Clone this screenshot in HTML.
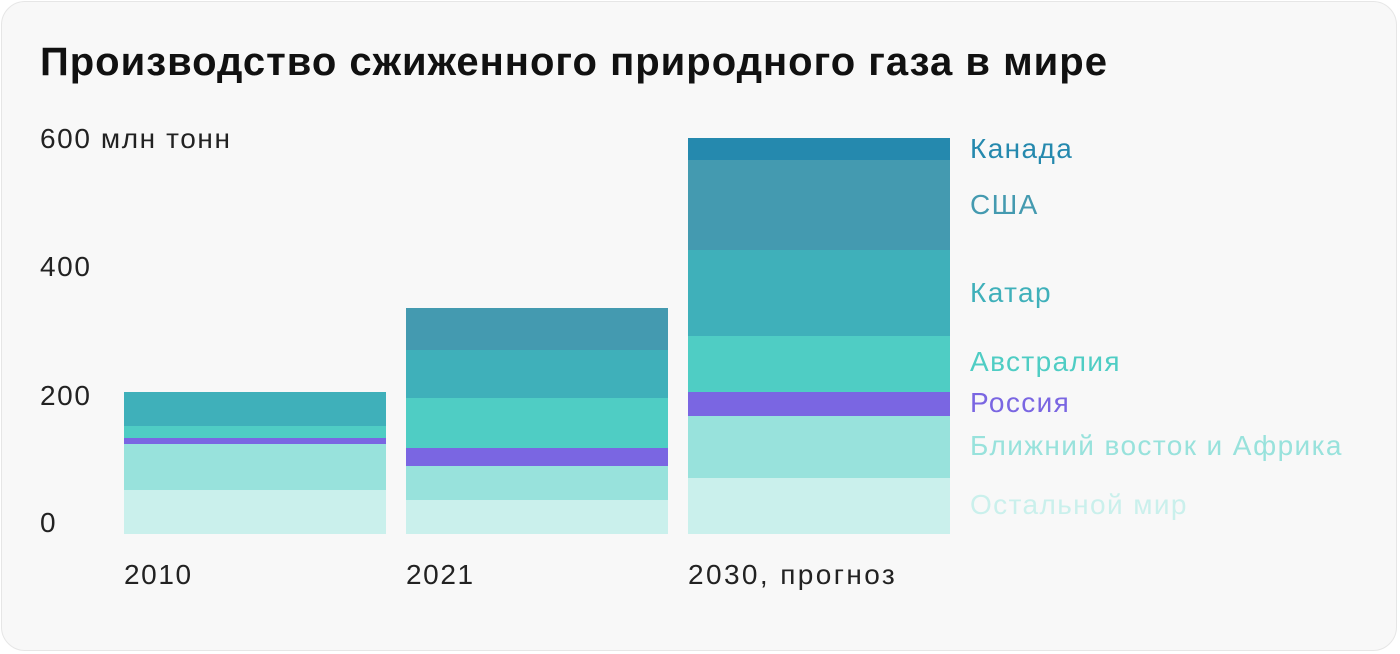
<!DOCTYPE html>
<html><head><meta charset="utf-8"><style>
body{margin:0;width:1400px;height:654px;background:#fff;font-family:"Liberation Sans",sans-serif;overflow:hidden}
.card{position:absolute;left:1px;top:1px;width:1396px;height:650px;background:#f8f8f8;border:1px solid #e6e6e6;border-radius:24px;box-sizing:border-box}
.t{position:absolute;white-space:nowrap}
.ax{font-size:28px;letter-spacing:1.6px;color:#222}
.lg{font-size:28px;letter-spacing:1.4px}
.b{position:absolute}
</style></head><body>
<div class="card"></div>
<div class="t" style="left:40px;top:40px;font-size:40px;letter-spacing:1px;font-weight:bold;color:#111">Производство сжиженного природного газа в мире</div>
<div class="t ax" style="left:40px;top:123px">600 млн тонн</div>
<div class="t ax" style="left:40px;top:251px">400</div>
<div class="t ax" style="left:40px;top:380px">200</div>
<div class="t ax" style="left:40px;top:507px">0</div>
<div class="t ax" style="left:124px;top:559px">2010</div>
<div class="t ax" style="left:406px;top:559px">2021</div>
<div class="t ax" style="left:688px;top:559px;letter-spacing:2.4px">2030, прогноз</div>

<div class="b" style="left:124px;width:262px;top:392px;height:34px;background:#3FB0BA"></div>
<div class="b" style="left:124px;width:262px;top:426px;height:12px;background:#4FCDC4"></div>
<div class="b" style="left:124px;width:262px;top:438px;height:6px;background:#7A66E2"></div>
<div class="b" style="left:124px;width:262px;top:444px;height:46px;background:#98E2DC"></div>
<div class="b" style="left:124px;width:262px;top:490px;height:44px;background:#CAF0EC"></div>

<div class="b" style="left:406px;width:262px;top:308px;height:42px;background:#449AB0"></div>
<div class="b" style="left:406px;width:262px;top:350px;height:48px;background:#3FB0BA"></div>
<div class="b" style="left:406px;width:262px;top:398px;height:50px;background:#4FCDC4"></div>
<div class="b" style="left:406px;width:262px;top:448px;height:18px;background:#7A66E2"></div>
<div class="b" style="left:406px;width:262px;top:466px;height:34px;background:#98E2DC"></div>
<div class="b" style="left:406px;width:262px;top:500px;height:34px;background:#CAF0EC"></div>

<div class="b" style="left:688px;width:262px;top:138px;height:22px;background:#2589AE"></div>
<div class="b" style="left:688px;width:262px;top:160px;height:90px;background:#449AB0"></div>
<div class="b" style="left:688px;width:262px;top:250px;height:86px;background:#3FB0BA"></div>
<div class="b" style="left:688px;width:262px;top:336px;height:56px;background:#4FCDC4"></div>
<div class="b" style="left:688px;width:262px;top:392px;height:24px;background:#7A66E2"></div>
<div class="b" style="left:688px;width:262px;top:416px;height:62px;background:#98E2DC"></div>
<div class="b" style="left:688px;width:262px;top:478px;height:56px;background:#CAF0EC"></div>

<div class="t lg" style="left:970px;top:133px;color:#2589AE">Канада</div>
<div class="t lg" style="left:970px;top:189px;color:#449AB0">США</div>
<div class="t lg" style="left:970px;top:277px;color:#3FB0BA">Катар</div>
<div class="t lg" style="left:970px;top:346px;color:#4FCDC4">Австралия</div>
<div class="t lg" style="left:970px;top:387px;color:#7A66E2">Россия</div>
<div class="t lg" style="left:970px;top:430px;color:#98E2DC">Ближний восток и Африка</div>
<div class="t lg" style="left:970px;top:489px;color:#CAF0EC">Остальной мир</div>
</body></html>
